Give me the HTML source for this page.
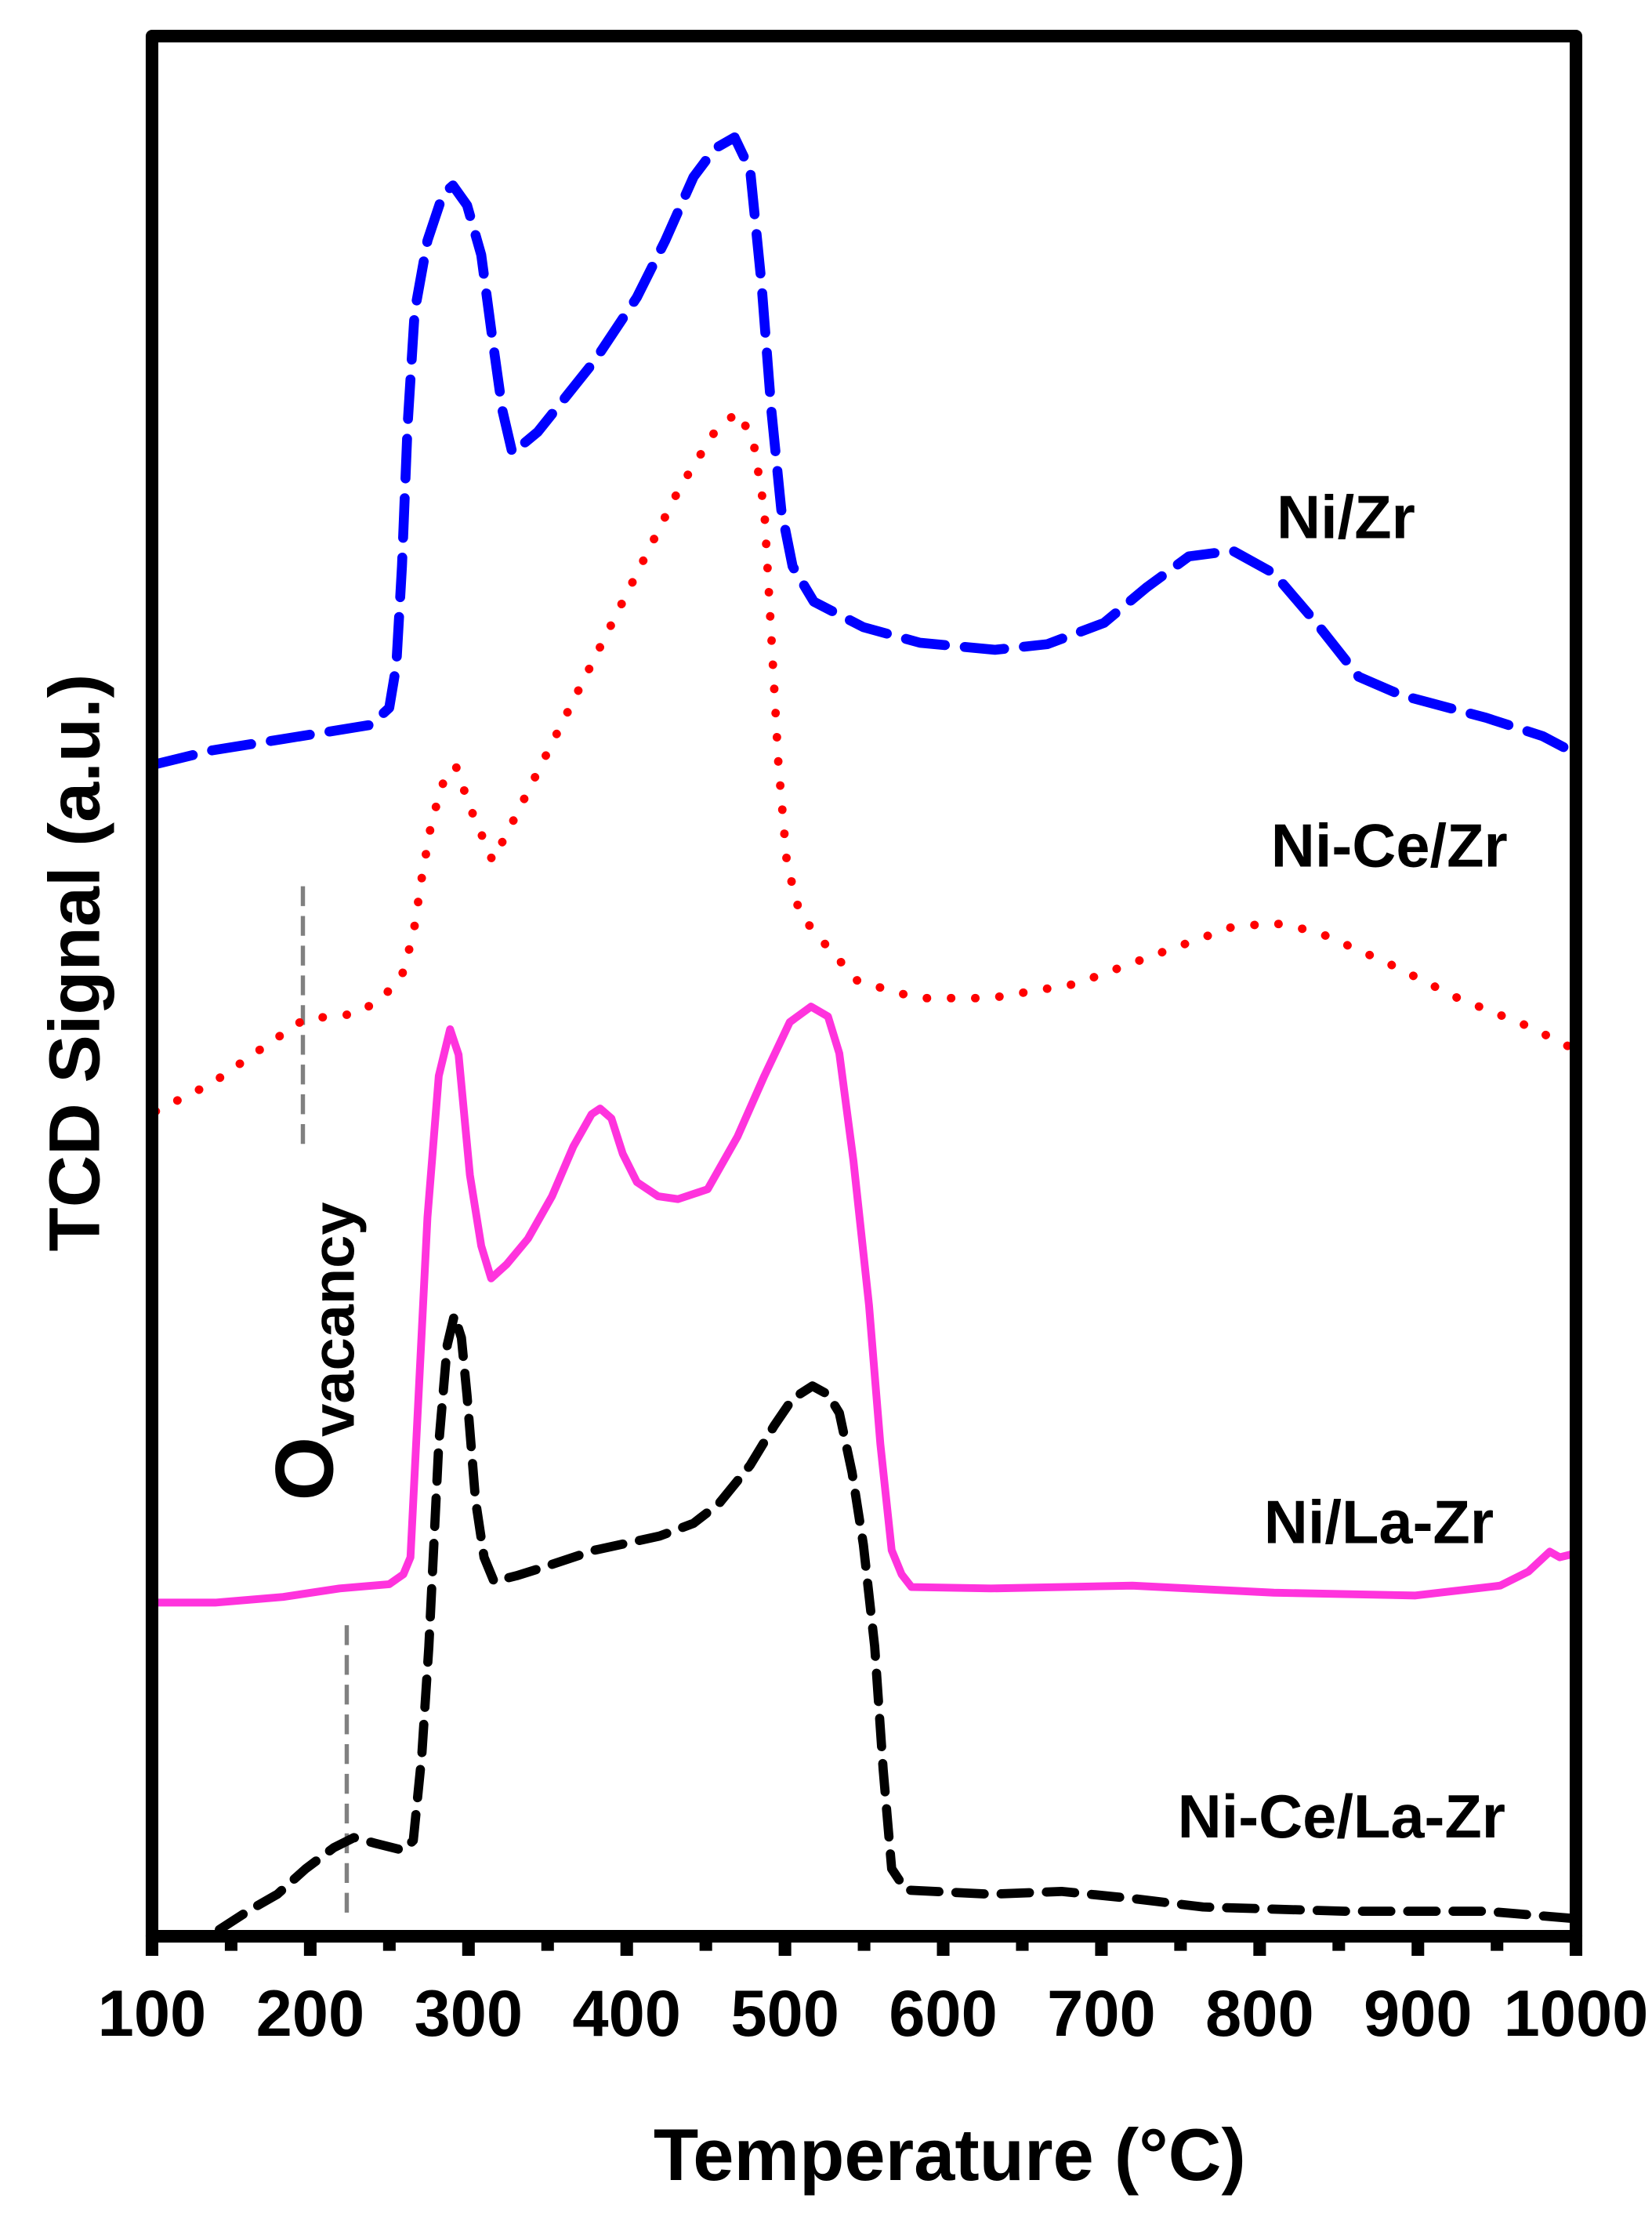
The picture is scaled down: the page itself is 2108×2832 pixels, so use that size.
<!DOCTYPE html>
<html><head><meta charset="utf-8"><style>html,body{margin:0;padding:0;background:#fff}svg{display:block}</style></head>
<body>
<svg xmlns="http://www.w3.org/2000/svg" width="2108" height="2832" viewBox="0 0 1167.2 1568.1" font-family="Liberation Sans, Arial, sans-serif" font-weight="bold">
<rect width="1167.2" height="1568.1" fill="#fff"/>
<!-- gray markers -->
<line x1="214" y1="626" x2="214" y2="810" stroke="#808080" stroke-width="3" stroke-dasharray="14,7"/>
<line x1="245" y1="1148" x2="245" y2="1354" stroke="#808080" stroke-width="3" stroke-dasharray="14,7"/>
<!-- Ni/Zr blue -->
<polyline fill="none" stroke="#0000ff" stroke-width="7" stroke-linecap="round" stroke-linejoin="round" stroke-dasharray="28,14"
points="109,540 150,530 200,522 262,512 275,500 280,470 284,400 288,300 293,220 302,170 313,137 320,131 330,145 340,180 348,240 355,290 362,320 380,305 420,255 450,210 470,170 490,125 505,105 519,97 530,120 538,200 545,290 552,360 560,400 575,425 610,443 650,454 703,459 740,455 780,440 810,415 840,393 871,389 900,405 930,440 960,478 990,491 1050,507 1090,520 1109,530"/>
<!-- Ni-Ce/Zr red dotted -->
<polyline fill="none" stroke="#ff0000" stroke-width="6" stroke-linecap="round" stroke-linejoin="round" stroke-dasharray="0.1,17"
points="110,785 150,765 190,737 215,720 252,716 270,705 284,689 292,660 298,620 305,580 314,550 322,541 332,570 348,608 360,585 390,525 420,465 450,405 480,345 505,305 521,291 532,310 540,360 545,450 550,540 556,610 565,645 576,659 606,693 648,705 700,705 760,695 820,673 870,655 900,652 930,658 980,680 1030,705 1080,725 1110,740"/>
<!-- Ni/La-Zr pink -->
<polyline fill="none" stroke="#ff33dd" stroke-width="5.5" stroke-linecap="round" stroke-linejoin="round"
points="109,1132 152,1132 200,1128 240,1122 275,1119 285,1112 290,1100 295,1000 302,860 310,760 318,727 324,745 332,830 340,880 347,903 358,893 373,875 390,845 405,810 418,787 424,783 432,790 440,815 450,835 465,845 479,847 500,840 521,803 540,760 558,722 573,711 585,718 593,744 603,820 614,922 622,1020 630,1095 637,1112 644,1121 700,1122 800,1120 900,1125 1000,1127 1060,1120 1080,1110 1095,1096 1102,1100 1110,1098"/>
<!-- Ni-Ce/La-Zr black -->
<polyline fill="none" stroke="#000" stroke-width="6.5" stroke-linecap="round" stroke-linejoin="round" stroke-dasharray="20,12"
points="155,1363 175,1350 196,1338 216,1320 236,1305 250,1298 265,1302 285,1307 292,1300 298,1240 303,1163 310,1020 316,950 321,929 326,945 330,986 336,1060 342,1100 349,1117 365,1113 381,1108 420,1095 466,1085 490,1076 508,1062 530,1035 547,1007 560,988 574,979 585,985 593,998 602,1040 610,1091 618,1163 624,1250 630,1320 640,1335 700,1338 750,1336 800,1341 850,1347 950,1350 1050,1350 1110,1355"/>
<!-- frame -->
<path d="M107.4,1367.7 V25.5 H1113.5 V1367.7 Z" fill="none" stroke="#000" stroke-width="8.9" stroke-linejoin="round"/>
<g stroke="#000" stroke-width="8.9">
<line x1="107.4" y1="1367" x2="107.4" y2="1381.5"/><line x1="219.2" y1="1367" x2="219.2" y2="1381.5"/><line x1="331" y1="1367" x2="331" y2="1381.5"/><line x1="442.8" y1="1367" x2="442.8" y2="1381.5"/><line x1="554.6" y1="1367" x2="554.6" y2="1381.5"/><line x1="666.4" y1="1367" x2="666.4" y2="1381.5"/><line x1="778.2" y1="1367" x2="778.2" y2="1381.5"/><line x1="890" y1="1367" x2="890" y2="1381.5"/><line x1="1001.8" y1="1367" x2="1001.8" y2="1381.5"/><line x1="1113.5" y1="1367" x2="1113.5" y2="1381.5"/>
<line x1="163.3" y1="1367" x2="163.3" y2="1378"/><line x1="275.1" y1="1367" x2="275.1" y2="1378"/><line x1="386.9" y1="1367" x2="386.9" y2="1378"/><line x1="498.7" y1="1367" x2="498.7" y2="1378"/><line x1="610.5" y1="1367" x2="610.5" y2="1378"/><line x1="722.3" y1="1367" x2="722.3" y2="1378"/><line x1="834.1" y1="1367" x2="834.1" y2="1378"/><line x1="945.9" y1="1367" x2="945.9" y2="1378"/><line x1="1057.7" y1="1367" x2="1057.7" y2="1378"/>
</g>
<g font-size="46" text-anchor="middle" fill="#000">
<text x="107.4" y="1438">100</text><text x="219.2" y="1438">200</text><text x="331" y="1438">300</text><text x="442.8" y="1438">400</text><text x="554.6" y="1438">500</text><text x="666.4" y="1438">600</text><text x="778.2" y="1438">700</text><text x="890" y="1438">800</text><text x="1001.8" y="1438">900</text><text x="1113.5" y="1438">1000</text>
</g>
<text x="671" y="1540" font-size="52" text-anchor="middle">Temperature (°C)</text>
<text transform="translate(70,680) rotate(-90)" font-size="51" text-anchor="middle">TCD Signal (a.u.)</text>
<text transform="translate(235,1060) rotate(-90)" font-size="58">O<tspan font-size="42" dy="15">vacancy</tspan></text>
<g font-size="43">
<text x="902" y="380">Ni/Zr</text>
<text x="898" y="612">Ni-Ce/Zr</text>
<text x="893" y="1090">Ni/La-Zr</text>
<text x="832" y="1298">Ni-Ce/La-Zr</text>
</g>
</svg>
</body></html>
